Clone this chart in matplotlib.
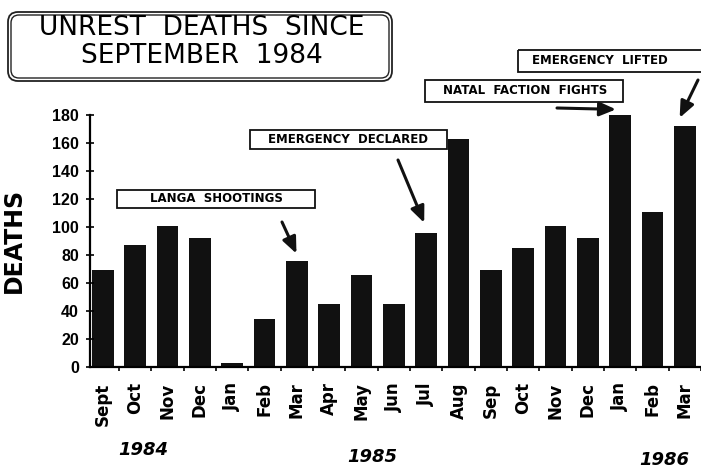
import matplotlib
matplotlib.use('Agg')
import matplotlib.pyplot as plt
import matplotlib.transforms as mtransforms
from matplotlib.patches import FancyBboxPatch, Rectangle

W, H = 701, 468

# data
months = ['Sept', 'Oct', 'Nov', 'Dec', 'Jan', 'Feb', 'Mar', 'Apr', 'May', 'Jun',
          'Jul', 'Aug', 'Sep', 'Oct', 'Nov', 'Dec', 'Jan', 'Feb', 'Mar']
deaths = [69, 87, 101, 92, 3, 34, 76, 45, 66, 45,
          96, 163, 69, 85, 101, 92, 180, 111, 172]
years = ['1984', '1985', '1986']
events = ['LANGA  SHOOTINGS', 'EMERGENCY  DECLARED', 'NATAL  FACTION  FIGHTS', 'EMERGENCY  LIFTED']
event_bar = [6, 10, 16, 18]

fig = plt.figure(figsize=(W / 100, H / 100), dpi=100)
fig.patch.set_facecolor('white')
# pixel coords with origin at top left
px = mtransforms.Affine2D().scale(1, -1).translate(0, H)

ax = fig.add_axes([90 / W, 1 - 367 / H, (W - 90) / W, (367 - 115) / H])
x = list(range(len(months)))
ax.bar(x, deaths, width=0.67, color='#111111')
ax.set_xlim(-0.395, -0.395 + (W - 90) / 32.9)
ax.set_ylim(0, 180)
ax.set_yticks(range(0, 181, 20))
ax.set_xticks(x)
ax.set_xticklabels(months, rotation=90, fontfamily='DejaVu Sans', fontweight='bold', fontsize=12)
ax.set_xticks([i + 0.5 for i in x], minor=True)
ax.tick_params(axis='x', which='major', length=0, pad=11)
ax.tick_params(axis='x', which='minor', length=3, width=1.2, direction='out')
ax.tick_params(axis='y', direction='inout', length=6, width=1.2, pad=5)
for lab in ax.get_yticklabels():
    lab.set_fontfamily('Liberation Sans')
    lab.set_fontweight('bold')
    lab.set_fontsize(11.5)
for s in ['top', 'right']:
    ax.spines[s].set_visible(False)
for s in ['left', 'bottom']:
    ax.spines[s].set_linewidth(1.6)

ax.set_ylabel('DEATHS', fontfamily='DejaVu Sans', fontweight='bold', fontsize=17)
ax.yaxis.set_label_coords((26 - 90) / (W - 90), (367 - 240) / 252)

# year labels under the months
year_pos = [(143, 450), (372, 457), (664, 460)]
for yr, (yx, yy) in zip(years, year_pos):
    fig.text(yx, yy, yr, transform=px, ha='center', va='center', family='DejaVu Sans',
             fontweight='bold', fontstyle='italic', fontsize=13)

# title in double rounded box
fig.text(202, 28, 'UNREST  DEATHS  SINCE', transform=px, ha='center', va='center',
         family='DejaVu Sans', fontsize=19)
fig.text(202, 56, 'SEPTEMBER  1984', transform=px, ha='center', va='center',
         family='DejaVu Sans', fontsize=19)
fig.add_artist(FancyBboxPatch((8, 12), 384, 69, boxstyle='round,pad=0,rounding_size=10',
                              transform=px, fill=False, lw=1.3, ec='#222222'))
fig.add_artist(FancyBboxPatch((11, 15), 378, 63, boxstyle='round,pad=0,rounding_size=8',
                              transform=px, fill=False, lw=1.0, ec='#222222'))

# event boxes and arrows
boxes = [(117, 190, 198, 18), (250, 130, 197, 19), (425, 80, 198, 22), (518, 50, 200, 22)]
text_x = [216, 348, 525, 600]
tails = [(282, 222), (398, 160), (557, 108), (698, 80)]
tip_dx = [-0.01, -0.06, -0.13, -0.16]
tip_dy = [5, 7, 4, 6]
for ev, bi, (bx, by, bw, bh), tx, tail, dx, dy in zip(events, event_bar, boxes, text_x,
                                                       tails, tip_dx, tip_dy):
    fig.add_artist(Rectangle((bx, by), bw, bh, transform=px, fill=False, lw=1.3, ec='#111111'))
    fig.text(tx, by + bh / 2, ev, transform=px, ha='center', va='center',
             family='DejaVu Sans', fontweight='bold', fontsize=8.5)
    ax.annotate('', xy=(bi + dx, deaths[bi] + dy), xycoords='data',
                xytext=tail, textcoords=px, annotation_clip=False,
                arrowprops=dict(arrowstyle='-|>,head_length=0.7,head_width=0.3',
                                lw=2.2, color='#111111', mutation_scale=14,
                                shrinkA=0, shrinkB=0))

fig.savefig('out.png', dpi=100)
